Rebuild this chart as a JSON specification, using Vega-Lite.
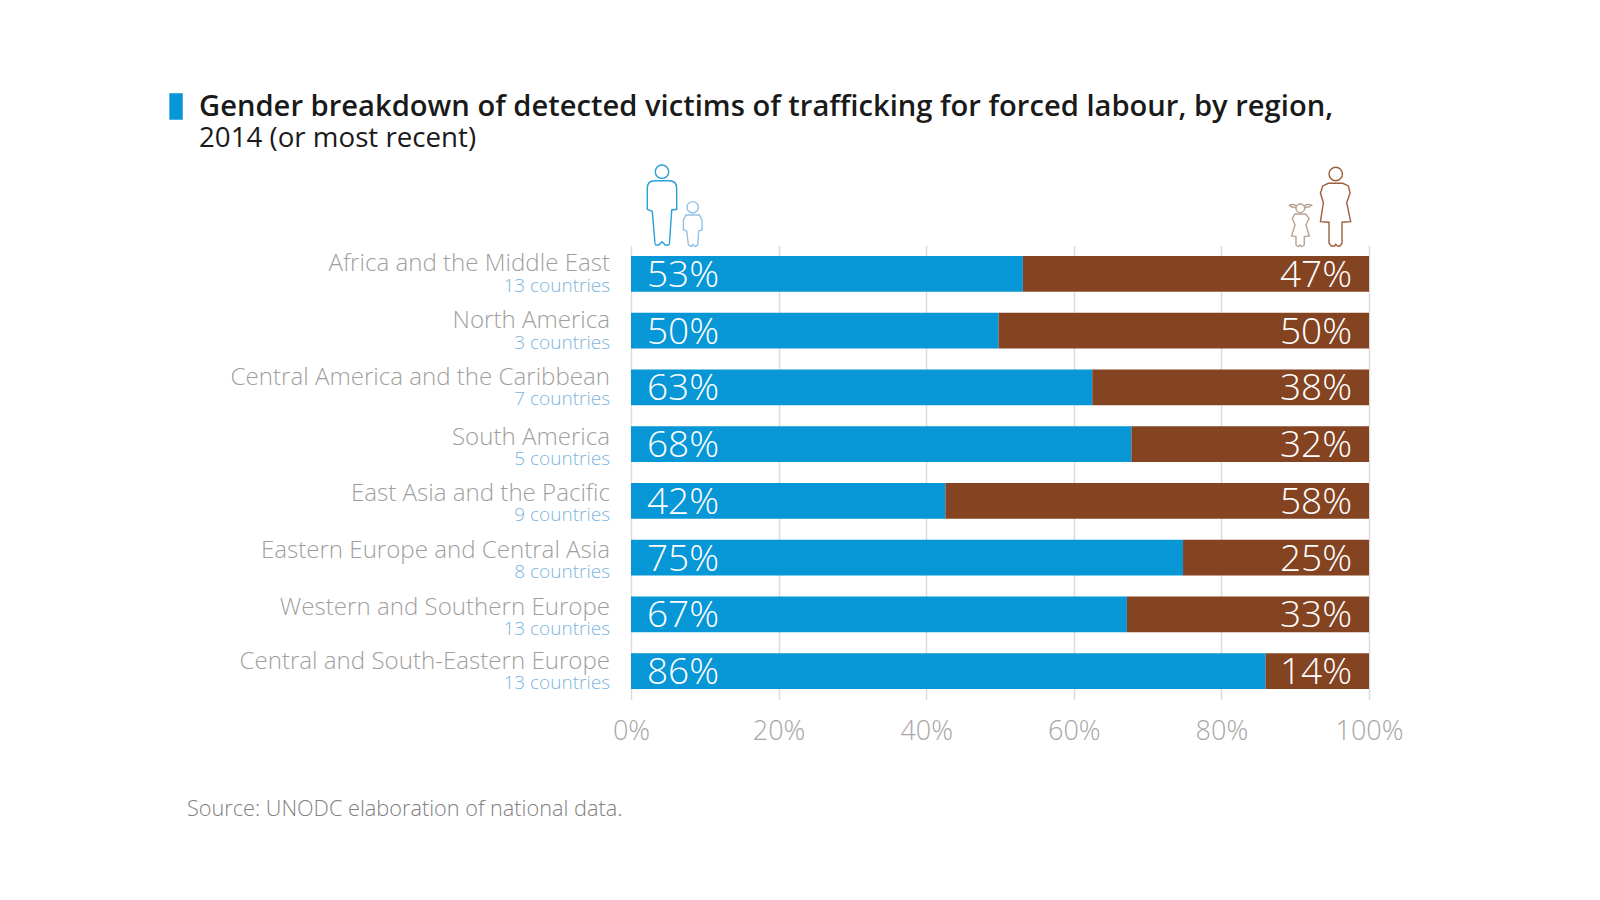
{
"$schema":"https://vega.github.io/schema/vega-lite/v6.json",
"width":738,"height":454,
"autosize":"none",
"padding":{"left":631,"top":245.6,"right":231,"bottom":200.4},
"background":"white",
"title":{"text":"Gender breakdown of detected victims of trafficking for forced labour, by region,","subtitle":"2014 (or most recent)","anchor":"start","frame":"group","dx":-432,"dy":159,"offset":97,"font":"Open Sans","fontSize":29.15,"fontWeight":600,"color":"#1a1a1a","subtitleFont":"Open Sans","subtitleFontSize":27.7,"subtitleFontWeight":400,"subtitleColor":"#1a1a1a","subtitlePadding":3},
"config":{"view":{"stroke":null},"font":"Open Sans"},
"data":{"values":[
{"region":"Africa and the Middle East","countries":"13 countries","gender":"Men and boys","share":53.1,"label":"53%"},
{"region":"Africa and the Middle East","countries":"13 countries","gender":"Women and girls","share":46.9,"label":"47%"},
{"region":"North America","countries":"3 countries","gender":"Men and boys","share":49.8,"label":"50%"},
{"region":"North America","countries":"3 countries","gender":"Women and girls","share":50.2,"label":"50%"},
{"region":"Central America and the Caribbean","countries":"7 countries","gender":"Men and boys","share":62.5,"label":"63%"},
{"region":"Central America and the Caribbean","countries":"7 countries","gender":"Women and girls","share":37.5,"label":"38%"},
{"region":"South America","countries":"5 countries","gender":"Men and boys","share":67.8,"label":"68%"},
{"region":"South America","countries":"5 countries","gender":"Women and girls","share":32.2,"label":"32%"},
{"region":"East Asia and the Pacific","countries":"9 countries","gender":"Men and boys","share":42.6,"label":"42%"},
{"region":"East Asia and the Pacific","countries":"9 countries","gender":"Women and girls","share":57.4,"label":"58%"},
{"region":"Eastern Europe and Central Asia","countries":"8 countries","gender":"Men and boys","share":74.8,"label":"75%"},
{"region":"Eastern Europe and Central Asia","countries":"8 countries","gender":"Women and girls","share":25.2,"label":"25%"},
{"region":"Western and Southern Europe","countries":"13 countries","gender":"Men and boys","share":67.2,"label":"67%"},
{"region":"Western and Southern Europe","countries":"13 countries","gender":"Women and girls","share":32.8,"label":"33%"},
{"region":"Central and South-Eastern Europe","countries":"13 countries","gender":"Men and boys","share":86.0,"label":"86%"},
{"region":"Central and South-Eastern Europe","countries":"13 countries","gender":"Women and girls","share":14.0,"label":"14%"}
]},
"encoding":{
"y":{"field":"region","type":"nominal","title":null,"axis":null,"scale":{"domain":["Africa and the Middle East","North America","Central America and the Caribbean","South America","East Asia and the Pacific","Eastern Europe and Central Asia","Western and Southern Europe","Central and South-Eastern Europe"],"paddingInner":0.37,"paddingOuter":0.185}}
},
"layer":[
{"mark":{"type":"bar"},
 "encoding":{
  "x":{"field":"share","type":"quantitative","stack":"zero","title":null,"scale":{"domain":[0,100],"nice":false},
   "axis":{"values":[0,20,40,60,80,100],"labelExpr":"datum.value+'%'","domain":false,"ticks":false,"grid":true,"gridColor":"#dcdcdc","gridWidth":1.5,"labelFlush":false,"labelOverlap":false,"labelFont":"Open Sans","labelFontSize":27,"labelFontWeight":300,"labelColor":"#a6a6a6","labelPadding":19}},
  "color":{"field":"gender","type":"nominal","legend":null,"scale":{"domain":["Men and boys","Women and girls"],"range":["#0796d6","#844321"]}}
 }},
{"transform":[{"filter":"datum.gender==='Men and boys'"}],
 "mark":{"type":"text","align":"left","baseline":"middle","dx":16,"dy":2,"fontSize":37,"fontWeight":300,"font":"Open Sans","color":"white"},
 "encoding":{"x":{"datum":0,"type":"quantitative"},"text":{"field":"label"}}},
{"transform":[{"filter":"datum.gender==='Women and girls'"}],
 "mark":{"type":"text","align":"right","baseline":"middle","dx":-17,"dy":2,"fontSize":37,"fontWeight":300,"font":"Open Sans","color":"white"},
 "encoding":{"x":{"datum":100,"type":"quantitative"},"text":{"field":"label"}}},
{"transform":[{"filter":"datum.gender==='Men and boys'"},{"filter":{"not":{"field":"region","oneOf":["South America","East Asia and the Pacific","Eastern Europe and Central Asia","Western and Southern Europe"]}}}],
 "mark":{"type":"text","align":"right","baseline":"middle","dx":-21,"dy":-9.5,"fontSize":24.1,"fontWeight":300,"font":"Open Sans","color":"#9f9f9f"},
 "encoding":{"x":{"datum":0,"type":"quantitative"},"text":{"field":"region"}}},
{"transform":[{"filter":"datum.gender==='Men and boys'"},{"filter":{"field":"region","oneOf":["South America","East Asia and the Pacific","Eastern Europe and Central Asia","Western and Southern Europe"]}}],
 "mark":{"type":"text","align":"right","baseline":"middle","dx":-21,"dy":-6.5,"fontSize":24.1,"fontWeight":300,"font":"Open Sans","color":"#9f9f9f"},
 "encoding":{"x":{"datum":0,"type":"quantitative"},"text":{"field":"region"}}},
{"transform":[{"filter":"datum.gender==='Men and boys'"},{"filter":{"not":{"field":"region","oneOf":["South America","East Asia and the Pacific","Eastern Europe and Central Asia","Western and Southern Europe"]}}}],
 "mark":{"type":"text","align":"right","baseline":"middle","dx":-21,"dy":12,"fontSize":19,"fontWeight":300,"font":"Open Sans","color":"#7db5e0"},
 "encoding":{"x":{"datum":0,"type":"quantitative"},"text":{"field":"countries"}}},
{"transform":[{"filter":"datum.gender==='Men and boys'"},{"filter":{"field":"region","oneOf":["South America","East Asia and the Pacific","Eastern Europe and Central Asia","Western and Southern Europe"]}}],
 "mark":{"type":"text","align":"right","baseline":"middle","dx":-21,"dy":14.5,"fontSize":19,"fontWeight":300,"font":"Open Sans","color":"#7db5e0"},
 "encoding":{"x":{"datum":0,"type":"quantitative"},"text":{"field":"countries"}}},
{"data":{"values":[{"region":"Central and South-Eastern Europe","source":"Source: UNODC elaboration of national data."}]},
 "mark":{"type":"text","align":"left","baseline":"middle","dx":-444,"dy":137.5,"fontSize":21.7,"fontWeight":300,"font":"Open Sans","color":"#808080"},
 "encoding":{"x":{"datum":0,"type":"quantitative"},"text":{"field":"source"}}},
{"data":{"values":[
 {"icon":"man","pos":4.2},{"icon":"boy","pos":8.36},{"icon":"girl","pos":90.69},{"icon":"woman","pos":95.49},{"icon":"marker","pos":-61.65}]},
 "mark":{"type":"point","filled":true,"size":4,"opacity":1,"yOffset":-69,"strokeWidth":1.4,"clip":false},
 "encoding":{
  "x":{"field":"pos","type":"quantitative"},
  "y":{"datum":"Africa and the Middle East"},
  "shape":{"field":"icon","type":"nominal","legend":null,"scale":{"domain":["man","boy","girl","woman","marker"],"range":[
   "M-6.7,-33.3A6.7,6.7 0 1 1 6.7,-33.3A6.7,6.7 0 1 1 -6.7,-33.3ZM-7.3,-24.3L7.3,-24.3Q14.7,-24.3 14.7,-16.7L14.7,4.3L9.7,5L7.7,35Q7.5,40 6.7,40L3.3,40L0,36.7L-3,40L-6.3,40Q-7,40 -7.3,35L-9.7,6.3L-14.7,4.3L-14.7,-16.7Q-14.7,-24.3 -7.3,-24.3Z",
   "M-5.7,2.3A5.7,5.7 0 1 1 5.7,2.3A5.7,5.7 0 1 1 -5.7,2.3ZM-6.7,10L6.7,10L9.3,15L9.3,25L6,26L5,40L2.3,41.7L0.3,39.3L-1,41.7L-4.3,40L-6,26L-9.3,25L-9.3,15Z",
   "M-4.3,3.3A4.3,4.3 0 1 1 4.3,3.3A4.3,4.3 0 1 1 -4.3,3.3ZM-4,0.8Q-8,-1.5 -11,0.3Q-8.5,3 -4.5,2.5ZM4,0.8Q8,-1.5 11.5,0.3Q8.5,3 4.5,2.5ZM-5.3,9L5.3,9L8.7,13.3L5.7,20L9,31L4,31.7L4,40L1.3,41.7L-0.3,40L-2,41.7L-4.3,40L-4.3,31.7L-8.7,31L-5.3,20L-8,13.3Z",
   "M-6.7,-31A6.7,6.7 0 1 1 6.7,-31A6.7,6.7 0 1 1 -6.7,-31ZM-7.3,-21.7L7,-21.7L12.7,-19L14.3,-11.7L11,-2.3L15,16.7L6.3,17.3L6.3,38.3L4.3,41L1.7,41L0,39.3L-1,41L-4.3,41L-6.7,38.3L-6.7,17.3L-15.3,16.7L-12.3,-2.3L-15.3,-11.7L-13,-19Z",
   "M-6,-111L6,-111L6,-86L-6,-86Z"]}},
  "stroke":{"field":"icon","type":"nominal","legend":null,"scale":{"domain":["man","boy","girl","woman","marker"],"range":["#2a9fd8","#93c2e6","#b9a392","#9c5f3c","#0796d6"]}},
  "fill":{"field":"icon","type":"nominal","legend":null,"scale":{"domain":["man","boy","girl","woman","marker"],"range":["transparent","transparent","transparent","transparent","#0796d6"]}}
 }}
]
}
